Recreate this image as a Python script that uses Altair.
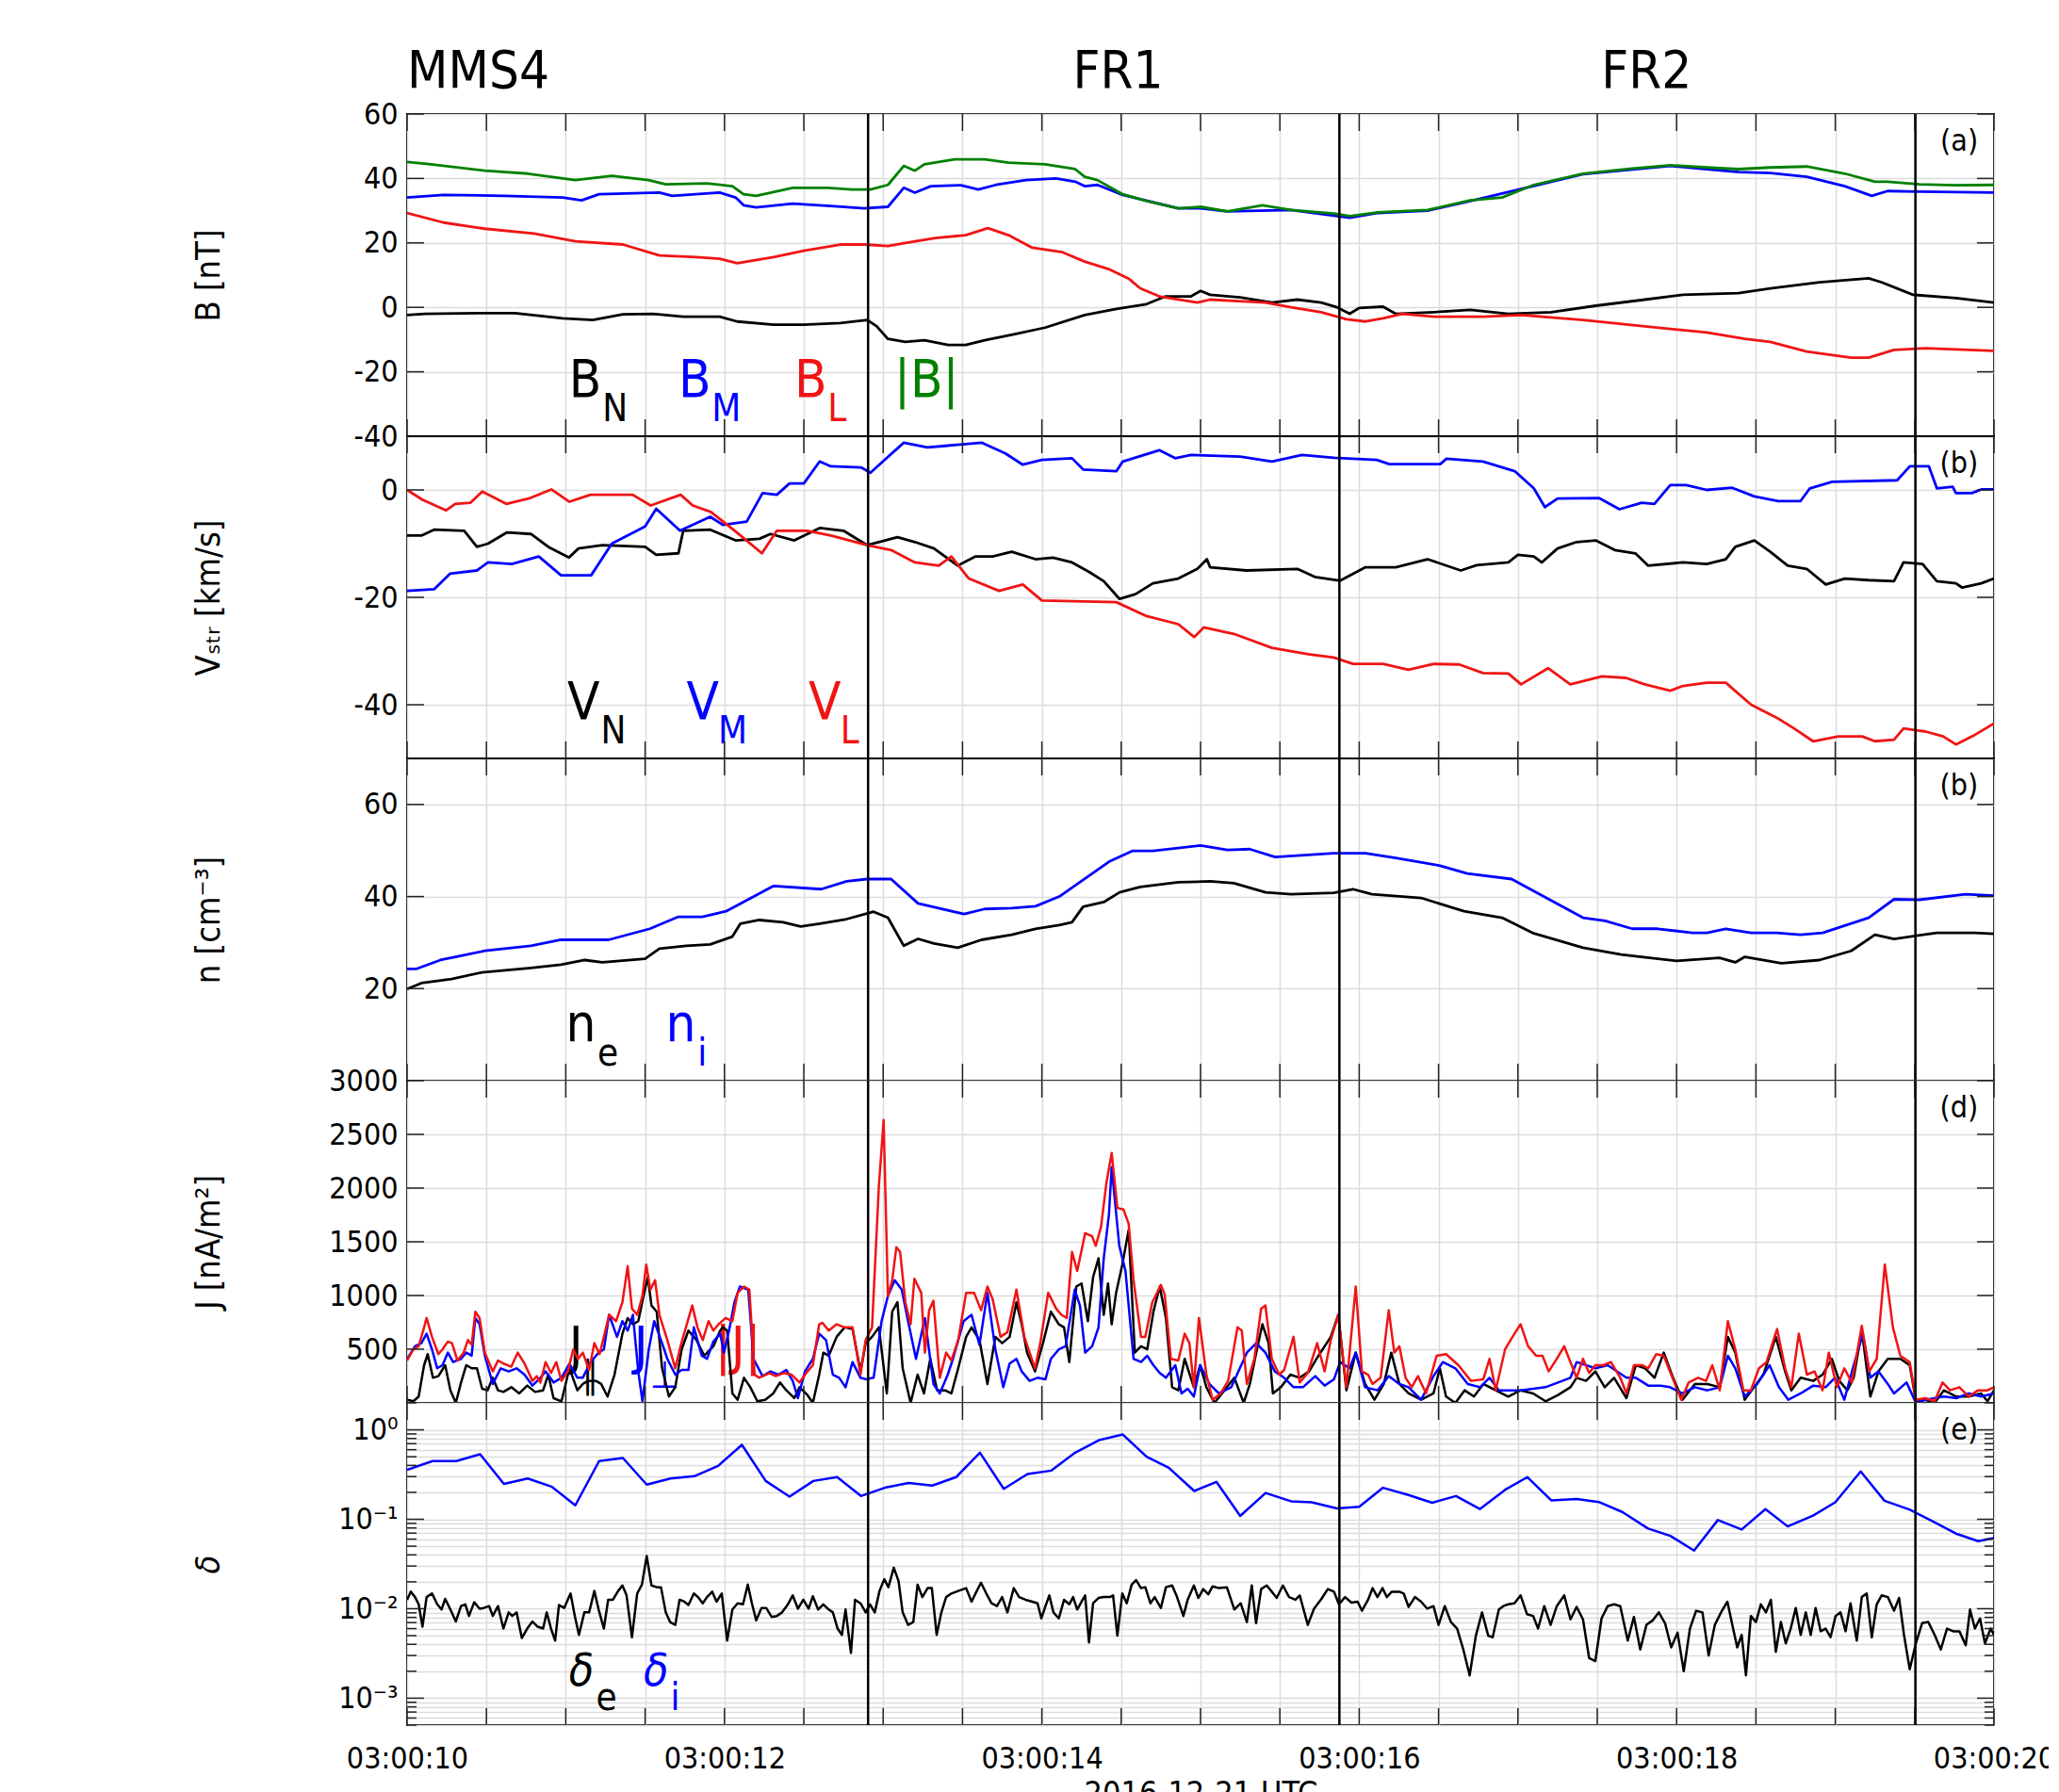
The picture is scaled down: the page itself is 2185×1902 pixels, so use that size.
import altair as alt
import pandas as pd

FONT = "DejaVu Sans Condensed, Liberation Sans Narrow, DejaVu Sans"
W, H = 1684, 342
TICK_LEN, MINOR_LEN = 18, 10
BLACK, BLUE, RED, GREEN = "#000000", "#0000ff", "#f01414", "#008000"
GRID_COLOR = "#dcdcdc"

# ---------------- axis / annotation values ----------------
T_DOMAIN = [10.0, 20.0]
HALF_TICKS = [10.0, 10.5, 11.0, 11.5, 12.0, 12.5, 13.0, 13.5, 14.0, 14.5, 15.0,
              15.5, 16.0, 16.5, 17.0, 17.5, 18.0, 18.5, 19.0, 19.5, 20.0]
EVENT_LINES = [12.905, 15.875, 19.505]
TOP_TITLES_LEFT = [("MMS4", 10.0)]
TOP_TITLES_CENTER = [("FR1", 14.48), ("FR2", 17.81)]
LETTER_T = 19.9
LETTERS = ["(a)", "(b)", "(b)", "(d)", "(e)"]

B_TICKS = [-40, -20, 0, 20, 40, 60]
V_TICKS = [-40, -20, 0]
N_TICKS = [20, 40, 60]
J_TICKS = [500, 1000, 1500, 2000, 2500, 3000]
D_MAJOR = [0.001, 0.01, 0.1, 1.0]
D_MINOR = [0.0005, 0.0006, 0.0007, 0.0008, 0.0009,
           0.002, 0.003, 0.004, 0.005, 0.006, 0.007, 0.008, 0.009,
           0.02, 0.03, 0.04, 0.05, 0.06, 0.07, 0.08, 0.09,
           0.2, 0.3, 0.4, 0.5, 0.6, 0.7, 0.8, 0.9, 2.0]

# ---------------- (a) magnetic field [nT] ----------------
B_N = [(10.0,-2.4),(10.11,-2.0),(10.45,-1.8),(10.68,-1.8),(10.98,-3.4),(11.17,-3.9),(11.36,-2.2),
       (11.55,-2.0),(11.74,-2.9),(11.97,-2.9),(12.08,-4.4),(12.31,-5.4),(12.50,-5.4),(12.73,-4.9),
       (12.90,-3.9),(12.96,-5.9),(13.03,-9.8),(13.14,-10.7),(13.26,-10.2),(13.41,-11.7),(13.52,-11.7),
       (13.64,-10.2),(13.83,-8.3),(14.02,-6.3),(14.27,-2.4),(14.47,-0.5),(14.66,1.0),(14.78,3.4),
       (14.94,3.4),(15.0,5.1),(15.06,3.9),(15.25,3.1),(15.45,1.5),(15.61,2.4),(15.76,1.5),(15.86,0.0),
       (15.94,-2.0),(16.0,-0.2),(16.15,0.2),(16.23,-2.0),(16.47,-1.5),(16.70,-0.8),(16.94,-2.0),
       (17.21,-1.5),(17.49,0.5),(17.80,2.4),(18.04,3.9),(18.39,4.4),(18.59,5.9),(18.90,7.8),
       (19.21,9.0),(19.29,7.8),(19.49,3.9),(19.76,2.9),(20.0,1.5)]
B_M = [(10.0,34.1),(10.23,34.9),(10.61,34.6),(10.98,34.1),(11.10,33.2),(11.21,35.1),(11.59,35.6),
       (11.67,34.6),(11.97,35.6),(12.07,34.1),(12.12,31.7),(12.20,31.0),(12.43,32.2),(12.69,31.4),
       (12.88,30.7),(13.03,31.2),(13.13,37.1),(13.20,35.6),(13.30,37.6),(13.49,37.9),(13.60,36.6),
       (13.71,38.0),(13.90,39.5),(14.09,40.0),(14.21,39.0),(14.27,37.6),(14.35,38.0),(14.51,34.9),
       (14.86,30.7),(15.0,30.7),(15.17,29.8),(15.57,30.2),(15.94,27.8),(16.12,29.3),(16.43,30.0),
       (16.70,33.0),(17.10,37.7),(17.41,41.3),(17.96,43.9),(18.19,42.9),(18.39,42.0),(18.59,41.7),
       (18.82,40.5),(19.06,37.6),(19.23,34.6),(19.33,36.1),(19.53,35.9),(20.0,35.6)]
B_L = [(10.0,29.3),(10.23,26.3),(10.49,24.4),(10.80,22.9),(11.06,20.5),(11.36,19.5),(11.59,16.1),
       (11.82,15.6),(11.97,15.1),(12.08,13.7),(12.31,15.6),(12.50,17.6),(12.73,19.5),(12.88,19.5),
       (13.03,19.0),(13.14,20.0),(13.33,21.5),(13.52,22.4),(13.66,24.6),(13.79,22.4),(13.94,18.5),
       (14.13,17.1),(14.27,14.2),(14.43,11.7),(14.55,8.8),(14.62,5.9),(14.74,3.4),(14.86,2.4),
       (14.98,1.5),(15.06,2.4),(15.21,2.0),(15.41,1.5),(15.57,0.0),(15.76,-1.5),(15.92,-3.7),
       (16.04,-4.4),(16.15,-3.4),(16.27,-2.0),(16.47,-2.9),(16.78,-2.9),(17.02,-2.4),(17.41,-3.9),
       (17.80,-5.9),(18.19,-7.8),(18.43,-9.8),(18.59,-10.7),(18.82,-13.7),(19.10,-15.6),(19.21,-15.6),
       (19.37,-13.2),(19.57,-12.7),(20.0,-13.5)]
B_ABS = [(10.0,45.1),(10.15,44.4),(10.49,42.4),(10.76,41.5),(11.06,39.5),(11.29,40.8),(11.52,39.5),
         (11.63,38.2),(11.89,38.5),(12.05,37.6),(12.12,35.1),(12.20,34.6),(12.43,37.1),(12.65,37.1),
         (12.80,36.6),(12.92,36.6),(13.03,38.0),(13.13,43.9),(13.20,42.4),(13.26,44.4),(13.45,45.9),
         (13.64,45.9),(13.79,44.9),(14.02,44.4),(14.21,42.9),(14.27,40.5),(14.35,39.5),(14.51,35.1),
         (14.66,33.0),(14.86,30.7),(15.0,31.2),(15.17,29.8),(15.39,31.7),(15.57,30.2),(15.84,29.1),
         (15.94,28.3),(16.12,29.5),(16.43,30.2),(16.70,33.2),(16.90,34.1),(17.10,38.0),(17.41,41.5),
         (17.72,43.1),(17.96,44.1),(18.19,43.4),(18.39,42.9),(18.59,43.4),(18.82,43.7),(19.06,41.5),
         (19.25,39.0),(19.33,39.0),(19.53,38.2),(19.76,37.9),(20.0,38.0)]

# ---------------- (b) structure velocity [km/s] ----------------
V_N = [(10.0,-8.5),(10.09,-8.5),(10.17,-7.4),(10.36,-7.6),(10.44,-10.6),(10.51,-10.0),(10.63,-7.9),
       (10.78,-8.2),(10.89,-10.6),(11.02,-12.6),(11.08,-10.9),(11.23,-10.3),(11.50,-10.6),(11.57,-12.1),
       (11.71,-11.8),(11.74,-7.6),(11.91,-7.4),(12.07,-9.4),(12.22,-9.1),(12.29,-8.2),(12.44,-9.4),
       (12.60,-7.1),(12.75,-7.6),(12.90,-10.3),(13.09,-8.8),(13.20,-9.7),(13.32,-10.9),(13.47,-14.1),
       (13.58,-12.4),(13.69,-12.4),(13.81,-11.5),(13.96,-12.9),(14.07,-12.6),(14.19,-13.5),(14.30,-15.3),
       (14.39,-17.0),(14.49,-20.3),(14.59,-19.4),(14.70,-17.4),(14.86,-16.5),(14.98,-14.7),(15.04,-12.9),
       (15.06,-14.4),(15.29,-15.0),(15.61,-14.7),(15.72,-16.2),(15.88,-16.9),(16.04,-14.4),(16.23,-14.4),
       (16.43,-12.9),(16.64,-15.0),(16.74,-14.0),(16.94,-13.5),(17.0,-12.1),(17.10,-12.4),(17.15,-13.5),
       (17.25,-10.9),(17.37,-9.7),(17.49,-9.4),(17.61,-11.2),(17.74,-11.8),(17.82,-14.1),(18.04,-13.5),
       (18.19,-13.8),(18.31,-12.9),(18.37,-10.6),(18.49,-9.4),(18.59,-11.5),(18.70,-14.1),(18.82,-14.7),
       (18.94,-17.6),(19.06,-16.5),(19.21,-16.8),(19.37,-17.0),(19.43,-13.5),(19.55,-13.8),(19.64,-17.0),
       (19.76,-17.4),(19.80,-18.2),(19.92,-17.4),(20.0,-16.5)]
V_M = [(10.0,-18.8),(10.17,-18.5),(10.27,-15.6),(10.44,-15.0),(10.51,-13.5),(10.66,-13.8),(10.83,-12.4),
       (10.97,-15.9),(11.16,-15.9),(11.29,-10.0),(11.50,-6.8),(11.57,-3.5),(11.72,-7.6),(11.91,-5.0),
       (11.99,-6.5),(12.14,-5.9),(12.24,-0.6),(12.33,-0.9),(12.41,1.2),(12.50,1.2),(12.60,5.3),
       (12.67,4.4),(12.86,4.2),(12.92,3.2),(13.01,5.6),(13.13,8.8),(13.28,7.9),(13.39,8.2),(13.62,8.8),
       (13.77,6.8),(13.88,4.7),(14.0,5.6),(14.19,5.9),(14.26,3.8),(14.47,3.5),(14.51,5.3),(14.74,7.4),
       (14.84,5.9),(14.94,6.5),(15.25,6.2),(15.45,5.3),(15.64,6.5),(15.84,6.0),(16.11,5.6),(16.19,4.8),
       (16.51,4.8),(16.55,5.8),(16.78,5.3),(16.98,3.5),(17.10,0.3),(17.17,-3.2),(17.25,-1.6),(17.51,-1.5),
       (17.64,-3.6),(17.78,-2.4),(17.86,-2.6),(17.96,0.9),(18.06,0.9),(18.19,0.0),(18.35,0.4),(18.49,-1.2),
       (18.64,-2.1),(18.78,-2.1),(18.84,0.3),(18.98,1.5),(19.39,1.8),(19.47,4.4),(19.59,4.4),(19.64,0.3),
       (19.74,0.6),(19.76,-0.6),(19.86,-0.6),(19.92,0.1),(20.0,0.1)]
V_L = [(10.0,0.0),(10.095,-1.8),(10.246,-3.8),(10.303,-2.6),(10.398,-2.4),(10.474,-0.3),(10.625,-2.6),
       (10.777,-1.5),(10.909,0.1),(11.023,-2.2),(11.156,-0.9),(11.421,-0.9),(11.535,-2.9),(11.724,-0.9),
       (11.80,-2.9),(11.914,-4.1),(12.065,-7.6),(12.236,-11.8),(12.33,-7.6),(12.52,-7.6),(12.67,-8.5),
       (12.90,-10.3),(13.05,-11.2),(13.20,-13.5),(13.35,-14.1),(13.43,-12.4),(13.54,-16.5),(13.73,-18.8),
       (13.88,-17.6),(14.0,-20.6),(14.47,-20.9),(14.66,-23.5),(14.86,-25.0),(14.96,-27.4),(15.02,-25.6),
       (15.21,-26.8),(15.45,-29.4),(15.68,-30.6),(15.84,-31.2),(15.96,-32.4),(16.15,-32.4),(16.31,-33.5),
       (16.47,-32.4),(16.63,-32.5),(16.78,-34.1),(16.94,-34.2),(17.02,-36.2),(17.19,-33.2),(17.33,-36.2),
       (17.53,-34.7),(17.68,-35.0),(17.80,-36.2),(17.96,-37.4),(18.04,-36.5),(18.19,-35.9),(18.31,-35.9),
       (18.47,-40.0),(18.63,-42.4),(18.74,-44.4),(18.86,-46.8),(19.02,-45.9),(19.17,-45.9),(19.25,-46.8),
       (19.37,-46.5),(19.43,-44.4),(19.57,-45.0),(19.68,-45.9),(19.76,-47.4),(19.88,-45.6),(20.0,-43.5)]

# ---------------- (c) density [cm^-3] ----------------
N_E = [(10.0,19.9),(10.09,21.2),(10.28,22.1),(10.47,23.5),(10.78,24.5),(10.97,25.2),(11.12,26.2),
       (11.23,25.7),(11.50,26.5),(11.59,28.7),(11.76,29.3),(11.91,29.6),(12.05,31.3),(12.10,34.1),
       (12.22,34.9),(12.37,34.4),(12.48,33.5),(12.60,34.1),(12.77,35.1),(12.94,36.7),(13.03,35.4),
       (13.13,29.3),(13.22,30.8),(13.32,29.8),(13.47,28.9),(13.62,30.6),(13.81,31.7),(13.96,33.0),
       (14.11,33.8),(14.19,34.4),(14.26,37.8),(14.39,38.8),(14.49,40.9),(14.62,42.1),(14.86,43.1),
       (15.06,43.3),(15.21,42.9),(15.41,40.9),(15.57,40.5),(15.84,40.8),(15.96,41.6),(16.08,40.5),
       (16.39,39.7),(16.66,36.8),(16.90,35.4),(17.10,32.0),(17.41,28.9),(17.65,27.4),(18.0,26.0),
       (18.27,26.7),(18.37,25.7),(18.43,26.9),(18.66,25.5),(18.90,26.2),(19.10,28.2),(19.25,31.7),
       (19.37,30.8),(19.64,32.1),(19.88,32.1),(20.0,31.9)]
N_I = [(10.0,24.3),(10.06,24.3),(10.21,26.2),(10.49,28.2),(10.78,29.3),(10.97,30.6),(11.27,30.6),
       (11.53,33.0),(11.71,35.6),(11.86,35.6),(12.01,36.8),(12.31,42.3),(12.61,41.6),(12.77,43.3),
       (12.90,43.8),(13.05,43.8),(13.22,38.5),(13.51,36.2),(13.64,37.3),(13.81,37.5),(13.96,37.9),
       (14.11,40.0),(14.43,47.7),(14.57,49.9),(14.70,49.9),(15.0,51.1),(15.17,50.1),(15.31,50.3),
       (15.47,48.6),(15.84,49.4),(16.04,49.4),(16.23,48.4),(16.51,46.7),(16.68,45.0),(16.96,43.8),
       (17.41,35.4),(17.55,34.7),(17.72,33.0),(17.88,33.0),(18.10,32.1),(18.19,32.1),(18.31,33.0),
       (18.47,32.1),(18.63,32.1),(18.78,31.7),(18.92,32.1),(19.21,35.4),(19.37,39.4),(19.53,39.3),
       (19.82,40.5),(20.0,40.2)]

# ---------------- (d) current density [nA/m^2] ----------------
J_PAR = [(10.0,29),(10.04,15),(10.073,59),(10.107,351),(10.13,454),(10.163,234),(10.197,249),(10.24,351),
         (10.273,117),(10.307,0),(10.34,190),(10.373,351),(10.407,322),(10.44,322),(10.473,132),(10.507,117),
         (10.54,234),(10.573,117),(10.607,102),(10.657,146),(10.707,88),(10.757,161),(10.807,102),(10.857,117),
         (10.89,263),(10.923,44),(10.973,15),(11.023,322),(11.073,117),(11.107,176),(11.14,205),(11.19,205),
         (11.223,176),(11.263,59),(11.307,263),(11.357,644),(11.39,790),(11.423,732),(11.457,761),(11.49,995),
         (11.517,1171),(11.54,907),(11.573,849),(11.607,322),(11.65,59),(11.69,146),(11.73,498),(11.773,673),
         (11.823,585),(11.873,439),(11.93,527),(11.973,673),(11.99,703),(12.017,673),(12.05,88),(12.083,29),
         (12.123,234),(12.163,146),(12.207,15),(12.257,29),(12.307,88),(12.35,190),(12.39,117),(12.44,44),
         (12.473,146),(12.523,73),(12.557,0),(12.597,263),(12.623,468),(12.657,439),(12.707,615),(12.757,703),
         (12.807,688),(12.857,293),(12.89,556),(12.93,615),(12.973,703),(13.023,88),(13.057,849),(13.09,937),
         (13.123,322),(13.173,0),(13.217,263),(13.257,88),(13.297,410),(13.34,117),(13.39,117),(13.43,88),
         (13.473,322),(13.523,615),(13.557,703),(13.607,585),(13.657,176),(13.707,615),(13.75,556),(13.797,615),
         (13.84,937),(13.873,732),(13.907,468),(13.957,293),(14.007,556),(14.057,849),(14.107,732),(14.14,703),
         (14.173,380),(14.217,1083),(14.25,1112),(14.29,761),(14.323,1171),(14.357,1346),(14.39,820),(14.417,1112),
         (14.44,732),(14.468,1025),(14.507,1288),(14.547,1610),(14.586,468),(14.625,527),(14.664,498),(14.703,849),
         (14.743,1083),(14.782,790),(14.821,146),(14.86,117),(14.9,410),(14.958,146),(14.998,351),(15.037,146),
         (15.088,0),(15.135,88),(15.213,234),(15.272,0),(15.311,176),(15.351,468),(15.39,732),(15.429,556),
         (15.456,88),(15.507,146),(15.566,263),(15.625,234),(15.684,293),(15.743,439),(15.821,615),(15.868,820),
         (15.919,117),(15.978,468),(16.037,176),(16.096,29),(16.155,176),(16.202,468),(16.253,176),(16.311,88),
         (16.39,29),(16.468,88),(16.508,322),(16.547,59),(16.606,0),(16.664,117),(16.723,59),(16.782,176),
         (16.86,117),(16.939,59),(17.017,117),(17.096,88),(17.174,15),(17.253,73),(17.331,146),(17.37,234),
         (17.429,205),(17.488,293),(17.547,146),(17.606,234),(17.684,44),(17.743,351),(17.802,322),(17.861,234),
         (17.919,468),(17.978,234),(18.037,29),(18.115,176),(18.194,176),(18.272,146),(18.323,615),(18.37,468),
         (18.429,29),(18.488,146),(18.547,263),(18.625,615),(18.684,293),(18.723,117),(18.782,234),(18.861,205),
         (18.92,263),(18.978,410),(19.025,205),(19.076,117),(19.116,234),(19.167,673),(19.221,59),(19.272,293),
         (19.331,410),(19.41,410),(19.469,351),(19.508,15),(19.567,29),(19.626,0),(19.684,117),(19.763,59),
         (19.841,59),(19.919,88),(19.959,15),(20.0,117)]
J_PERP = [(10.0,410),(10.05,527),(10.09,556),(10.123,644),(10.157,498),(10.19,322),(10.223,351),(10.257,468),
          (10.29,380),(10.34,410),(10.373,468),(10.407,439),(10.43,790),(10.457,732),(10.49,439),(10.54,176),
          (10.59,322),(10.64,293),(10.69,322),(10.74,263),(10.79,161),(10.84,234),(10.873,293),(10.923,190),
          (10.973,234),(11.023,366),(11.073,234),(11.107,234),(11.157,380),(11.207,468),(11.24,498),(11.273,820),
          (11.323,615),(11.357,761),(11.39,673),(11.423,820),(11.457,293),(11.483,15),(11.523,498),(11.557,761),
          (11.607,556),(11.64,410),(11.69,263),(11.73,307),(11.773,307),(11.807,703),(11.857,439),(11.89,410),
          (11.93,571),(11.973,644),(11.997,468),(12.033,703),(12.063,937),(12.097,1083),(12.15,1054),(12.183,410),
          (12.24,249),(12.29,293),(12.34,263),(12.39,307),(12.43,205),(12.463,44),(12.507,293),(12.557,410),
          (12.597,644),(12.64,585),(12.683,263),(12.723,234),(12.763,146),(12.807,380),(12.857,234),(12.89,220),
          (12.94,234),(12.99,761),(13.03,995),(13.073,1142),(13.117,1054),(13.157,761),(13.207,410),(13.263,790),
          (13.317,176),(13.357,88),(13.407,263),(13.44,410),(13.507,761),(13.557,820),(13.607,541),(13.657,1025),
          (13.707,498),(13.757,146),(13.797,366),(13.84,410),(13.873,293),(13.923,205),(13.973,234),(14.023,220),
          (14.057,410),(14.107,498),(14.15,527),(14.207,1054),(14.24,907),(14.273,468),(14.317,527),(14.357,703),
          (14.39,1346),(14.423,1756),(14.44,2195),(14.488,1463),(14.527,1229),(14.578,410),(14.625,380),
          (14.664,439),(14.703,351),(14.743,278),(14.782,234),(14.841,351),(14.88,88),(14.919,132),(14.958,59),
          (14.998,351),(15.056,176),(15.115,88),(15.194,146),(15.292,468),(15.351,556),(15.409,468),(15.468,293),
          (15.527,234),(15.586,146),(15.645,146),(15.723,249),(15.782,161),(15.841,220),(15.88,380),(15.939,322),
          (15.978,468),(16.037,146),(16.115,117),(16.186,249),(16.253,176),(16.311,146),(16.39,29),(16.468,249),
          (16.527,380),(16.606,322),(16.684,176),(16.762,146),(16.821,234),(16.88,117),(17.017,117),(17.174,146),
          (17.331,234),(17.37,380),(17.488,322),(17.566,351),(17.684,234),(17.743,234),(17.821,161),(17.899,161),
          (17.958,146),(18.037,88),(18.115,146),(18.194,117),(18.272,146),(18.323,439),(18.37,322),(18.429,59),
          (18.508,176),(18.586,351),(18.645,146),(18.704,29),(18.782,88),(18.861,161),(18.939,146),(18.998,234),
          (19.057,29),(19.116,351),(19.174,644),(19.221,234),(19.272,293),(19.331,176),(19.37,88),(19.449,190),
          (19.508,0),(19.567,29),(19.626,44),(19.684,59),(19.763,44),(19.841,88),(19.919,59),(20.0,88)]
J_ABS = [(10.0,395),(10.04,498),(10.073,527),(10.107,703),(10.123,790),(10.157,615),(10.197,454),(10.223,498),
         (10.257,571),(10.283,556),(10.317,395),(10.357,468),(10.383,585),(10.407,541),(10.43,849),(10.457,790),
         (10.49,468),(10.54,293),(10.573,395),(10.607,366),(10.657,337),(10.697,468),(10.74,366),(10.79,205),
         (10.817,249),(10.84,190),(10.873,380),(10.907,278),(10.94,380),(10.973,205),(11.013,293),(11.047,498),
         (11.077,410),(11.107,468),(11.147,307),(11.18,556),(11.213,454),(11.24,615),(11.273,820),(11.317,761),
         (11.357,937),(11.39,1273),(11.417,878),(11.45,820),(11.483,995),(11.507,1288),(11.533,1054),(11.563,1142),
         (11.59,820),(11.64,585),(11.69,322),(11.723,527),(11.757,703),(11.797,907),(11.83,703),(11.863,585),
         (11.9,761),(11.93,673),(11.963,732),(12.007,790),(12.05,761),(12.083,1025),(12.123,1083),(12.157,1054),
         (12.19,263),(12.217,234),(12.24,249),(12.283,278),(12.323,249),(12.373,278),(12.423,263),(12.473,190),
         (12.523,293),(12.557,351),(12.597,732),(12.617,746),(12.657,673),(12.707,732),(12.757,703),(12.807,703),
         (12.857,263),(12.89,585),(12.93,703),(12.973,2020),(13.003,2634),(13.03,995),(13.057,1142),(13.083,1449),
         (13.107,1405),(13.14,937),(13.173,732),(13.197,1156),(13.24,1025),(13.263,468),(13.29,863),(13.317,951),
         (13.357,234),(13.397,468),(13.43,395),(13.473,585),(13.523,1025),(13.573,1025),(13.617,863),(13.657,1083),
         (13.69,966),(13.74,615),(13.783,659),(13.84,1054),(13.89,615),(13.923,468),(13.957,322),(13.99,556),
         (14.04,1025),(14.09,878),(14.123,820),(14.157,790),(14.19,1405),(14.223,1229),(14.273,1580),(14.317,1551),
         (14.34,1463),(14.373,1639),(14.407,2049),(14.44,2327),(14.476,1815),(14.515,1800),(14.547,1668),
         (14.578,1141),(14.625,615),(14.652,615),(14.696,937),(14.75,1098),(14.774,1010),(14.813,410),(14.86,395),
         (14.9,644),(14.93,556),(14.958,146),(14.99,790),(15.037,263),(15.076,29),(15.127,88),(15.174,205),
         (15.233,703),(15.26,673),(15.292,176),(15.339,410),(15.382,878),(15.409,907),(15.449,410),(15.496,263),
         (15.527,307),(15.586,615),(15.625,190),(15.676,278),(15.735,556),(15.782,293),(15.821,585),(15.868,820),
         (15.919,146),(15.978,1083),(16.017,293),(16.056,263),(16.084,176),(16.135,234),(16.186,863),(16.221,468),
         (16.253,527),(16.292,234),(16.331,146),(16.37,249),(16.421,88),(16.488,439),(16.547,454),(16.625,351),
         (16.704,205),(16.782,220),(16.821,410),(16.86,117),(16.919,498),(16.978,644),(17.017,732),(17.064,527),
         (17.115,439),(17.155,439),(17.194,293),(17.245,410),(17.292,527),(17.331,380),(17.37,234),(17.41,410),
         (17.449,278),(17.488,351),(17.539,351),(17.586,380),(17.645,234),(17.684,88),(17.731,351),(17.782,351),
         (17.821,322),(17.872,454),(17.919,439),(17.966,263),(18.029,29),(18.076,190),(18.135,234),(18.186,205),
         (18.225,351),(18.272,117),(18.323,761),(18.37,498),(18.421,117),(18.468,117),(18.519,322),(18.567,380),
         (18.633,688),(18.684,322),(18.723,146),(18.77,644),(18.821,263),(18.869,293),(18.92,117),(18.959,468),
         (19.01,146),(19.057,322),(19.104,190),(19.167,717),(19.214,293),(19.261,410),(19.312,1288),(19.363,703),
         (19.41,439),(19.469,380),(19.508,29),(19.567,44),(19.626,15),(19.676,190),(19.723,117),(19.782,146),
         (19.841,59),(19.9,117),(19.959,117),(20.0,146)]

# ---------------- (e) delta ----------------
DELTA_I = [(10.0,0.356),(10.16,0.447),(10.31,0.447),(10.46,0.533),(10.61,0.248),(10.76,0.286),(10.91,0.232),
           (11.06,0.143),(11.21,0.447),(11.36,0.484),(11.51,0.244),(11.66,0.286),(11.81,0.303),(11.96,0.395),
           (12.11,0.679),(12.26,0.268),(12.41,0.179),(12.56,0.268),(12.71,0.296),(12.86,0.182),(13.01,0.225),
           (13.16,0.254),(13.31,0.238),(13.46,0.296),(13.61,0.555),(13.76,0.219),(13.91,0.321),(14.06,0.350),
           (14.21,0.555),(14.36,0.766),(14.51,0.886),(14.66,0.5),(14.80,0.377),(14.96,0.207),(15.10,0.262),
           (15.25,0.109),(15.41,0.197),(15.57,0.159),(15.70,0.155),(15.86,0.132),(16.0,0.138),(16.15,0.225),
           (16.31,0.187),(16.46,0.153),(16.61,0.182),(16.76,0.130),(16.92,0.214),(17.06,0.296),(17.21,0.163),
           (17.37,0.169),(17.51,0.156),(17.66,0.120),(17.82,0.0787),(17.96,0.0653),(18.11,0.0447),(18.26,0.098),
           (18.41,0.0768),(18.56,0.130),(18.70,0.0832),(18.86,0.110),(19.0,0.155),(19.16,0.342),(19.31,0.161),
           (19.47,0.128),(19.61,0.0955),(19.76,0.0692),(19.90,0.057),(20.0,0.0618)]
DELTA_E = [(10.0,0.0126),(10.023,0.0155),(10.05,0.0135),(10.073,0.0112),(10.097,0.0063),(10.123,0.0135),
           (10.157,0.0148),(10.19,0.0112),(10.217,0.0098),(10.24,0.0129),(10.273,0.0098),(10.307,0.0072),
           (10.34,0.0107),(10.367,0.0112),(10.39,0.0083),(10.423,0.0118),(10.457,0.0100),(10.483,0.0102),
           (10.517,0.0107),(10.54,0.0083),(10.573,0.0107),(10.607,0.0060),(10.64,0.0091),(10.663,0.0083),
           (10.69,0.0091),(10.723,0.0047),(10.757,0.0060),(10.79,0.0072),(10.823,0.0063),(10.857,0.0060),
           (10.88,0.0091),(10.907,0.0060),(10.933,0.0044),(10.957,0.0110),(10.99,0.0102),(11.03,0.0148),
           (11.057,0.0083),(11.083,0.0051),(11.117,0.0091),(11.147,0.0091),(11.18,0.0158),(11.207,0.0098),
           (11.24,0.0060),(11.267,0.0126),(11.297,0.0126),(11.33,0.0158),(11.357,0.0182),(11.383,0.0141),
           (11.417,0.0048),(11.45,0.0148),(11.48,0.0186),(11.51,0.0389),(11.54,0.0182),(11.573,0.0174),
           (11.6,0.0174),(11.63,0.0091),(11.657,0.0071),(11.69,0.0066),(11.717,0.0126),(11.747,0.0120),
           (11.773,0.0110),(11.807,0.0148),(11.833,0.0135),(11.863,0.0115),(11.89,0.0135),(11.923,0.0155),
           (11.95,0.0120),(11.983,0.0148),(12.017,0.0044),(12.05,0.0098),(12.083,0.0115),(12.117,0.0112),
           (12.147,0.0186),(12.173,0.0115),(12.2,0.0074),(12.233,0.0102),(12.263,0.0102),(12.297,0.0081),
           (12.33,0.0083),(12.363,0.0091),(12.397,0.0110),(12.43,0.0141),(12.463,0.0100),(12.497,0.0126),
           (12.53,0.0100),(12.557,0.0138),(12.59,0.0098),(12.623,0.0112),(12.657,0.0098),(12.683,0.0091),
           (12.713,0.0060),(12.74,0.0051),(12.763,0.0098),(12.797,0.0032),(12.823,0.0126),(12.857,0.0115),
           (12.89,0.0091),(12.917,0.0112),(12.947,0.0091),(12.977,0.0158),(13.007,0.0214),(13.033,0.0174),
           (13.067,0.0288),(13.097,0.0204),(13.123,0.0091),(13.157,0.0066),(13.19,0.0071),(13.217,0.0186),
           (13.247,0.0135),(13.28,0.0170),(13.307,0.0170),(13.337,0.0051),(13.367,0.0091),(13.397,0.0135),
           (13.43,0.0148),(13.473,0.0158),(13.523,0.0170),(13.557,0.0120),(13.59,0.0158),(13.617,0.0195),
           (13.65,0.0148),(13.683,0.0115),(13.717,0.0107),(13.75,0.0135),(13.783,0.0091),(13.823,0.0170),
           (13.857,0.0135),(13.897,0.0126),(13.94,0.0120),(13.973,0.0115),(13.997,0.0078),(14.023,0.0107),
           (14.047,0.0141),(14.073,0.0091),(14.107,0.0078),(14.14,0.0126),(14.173,0.0112),(14.197,0.0135),
           (14.223,0.0098),(14.257,0.0126),(14.273,0.0141),(14.297,0.0042),(14.323,0.0115),(14.357,0.0132),
           (14.39,0.0135),(14.429,0.0135),(14.449,0.0141),(14.476,0.0050),(14.507,0.0148),(14.535,0.0115),
           (14.566,0.0186),(14.594,0.0209),(14.625,0.0170),(14.652,0.0174),(14.684,0.0115),(14.711,0.0135),
           (14.75,0.0102),(14.782,0.0174),(14.821,0.0182),(14.852,0.0135),(14.892,0.0083),(14.919,0.0126),
           (14.958,0.0182),(14.986,0.0132),(15.017,0.0166),(15.049,0.0145),(15.076,0.0178),(15.115,0.0170),
           (15.166,0.0174),(15.213,0.0098),(15.253,0.0115),(15.292,0.0071),(15.323,0.0182),(15.35,0.0069),
           (15.382,0.0166),(15.417,0.0182),(15.449,0.0155),(15.48,0.0132),(15.519,0.0182),(15.558,0.0135),
           (15.598,0.0126),(15.625,0.0141),(15.676,0.0066),(15.715,0.0100),(15.762,0.0129),(15.802,0.0166),
           (15.841,0.0155),(15.872,0.0112),(15.911,0.0135),(15.951,0.0117),(15.99,0.0120),(16.017,0.0095),
           (16.056,0.0126),(16.084,0.0170),(16.115,0.0135),(16.147,0.0170),(16.174,0.0135),(16.205,0.0155),
           (16.253,0.0155),(16.28,0.0148),(16.311,0.0105),(16.351,0.0135),(16.39,0.0120),(16.429,0.0100),
           (16.468,0.0107),(16.5,0.0066),(16.539,0.0107),(16.578,0.0071),(16.617,0.0060),(16.656,0.0035),
           (16.696,0.0018),(16.735,0.0050),(16.774,0.0091),(16.813,0.0050),(16.841,0.0048),(16.88,0.0098),
           (16.908,0.0107),(16.939,0.0112),(16.978,0.0115),(17.017,0.0141),(17.057,0.0087),(17.096,0.0083),
           (17.127,0.0060),(17.166,0.0107),(17.206,0.0066),(17.245,0.0107),(17.292,0.0141),(17.331,0.0076),
           (17.37,0.0105),(17.41,0.0076),(17.449,0.0028),(17.488,0.0026),(17.527,0.0078),(17.566,0.0107),
           (17.606,0.0112),(17.645,0.0107),(17.692,0.0044),(17.731,0.0081),(17.771,0.0035),(17.81,0.0066),
           (17.849,0.0074),(17.888,0.0091),(17.927,0.0069),(17.966,0.0037),(18.006,0.0054),(18.045,0.0020),
           (18.084,0.0060),(18.123,0.0095),(18.163,0.0091),(18.202,0.0030),(18.241,0.0066),(18.28,0.0091),
           (18.32,0.0120),(18.351,0.0066),(18.382,0.0037),(18.41,0.0051),(18.437,0.0018),(18.468,0.0083),
           (18.5,0.0071),(18.531,0.0112),(18.563,0.0091),(18.594,0.0126),(18.625,0.0033),(18.657,0.0071),
           (18.688,0.0041),(18.719,0.0060),(18.751,0.0102),(18.782,0.0051),(18.814,0.0091),(18.845,0.0051),
           (18.876,0.0102),(18.908,0.0056),(18.939,0.0060),(18.97,0.0048),(19.002,0.0083),(19.033,0.0091),
           (19.065,0.0056),(19.096,0.0115),(19.135,0.0044),(19.167,0.0135),(19.198,0.0148),(19.23,0.0048),
           (19.261,0.0112),(19.292,0.0141),(19.331,0.0135),(19.37,0.0095),(19.402,0.0132),(19.433,0.0051),
           (19.469,0.0021),(19.508,0.0041),(19.547,0.0069),(19.586,0.0071),(19.626,0.0051),(19.665,0.0035),
           (19.704,0.0060),(19.743,0.0056),(19.782,0.0056),(19.822,0.0039),(19.849,0.0098),(19.88,0.0060),
           (19.912,0.0078),(19.943,0.0041),(19.979,0.0060),(20.0,0.0051)]

# ---------------- in-panel legend labels ----------------
LEG_A_MAIN = [("B", 11.02, BLACK), ("B", 11.71, BLUE), ("B", 12.44, RED), ("|B|", 13.07, GREEN)]
LEG_A_SUB = [("N", 11.23, BLACK), ("M", 11.92, BLUE), ("L", 12.65, RED)]
LEG_B_MAIN = [("V", 11.01, BLACK), ("V", 11.76, BLUE), ("V", 12.53, RED)]
LEG_B_SUB = [("N", 11.22, BLACK), ("M", 11.96, BLUE), ("L", 12.73, RED)]
LEG_C_MAIN = [("n", 11.0, BLACK), ("n", 11.63, BLUE)]
LEG_C_SUB = [("e", 11.2, BLACK), ("i", 11.83, BLUE)]
LEG_D_MAIN = [("J", 11.02, BLACK), ("J", 11.43, BLUE), ("|J|", 11.94, RED)]
LEG_D_SUB = [("\u2225", 11.1, BLACK), ("\u22a5", 11.53, BLUE)]
LEG_E_MAIN = [("\u03b4", 11.02, BLACK), ("\u03b4", 11.49, BLUE)]
LEG_E_SUB = [("e", 11.19, BLACK), ("i", 11.66, BLUE)]

X_SCALE = alt.Scale(domain=T_DOMAIN, nice=False, zero=False)


def x_axis(bottom):
    if bottom:
        return alt.Axis(values=HALF_TICKS, grid=True, gridColor=GRID_COLOR, gridWidth=1.5,
                        labels=True, labelExpr="datum.value % 2 == 0 ? '03:00:' + datum.value : ''",
                        labelFontSize=32, labelPadding=20, labelFlush=False, labelOverlap=False,
                        labelColor="black", ticks=False, tickSize=0, domain=False,
                        title="2016-12-21 UTC", titleFontSize=34, titlePadding=5,
                        titleFontWeight="normal", titleColor="black")
    return alt.Axis(values=HALF_TICKS, grid=True, gridColor=GRID_COLOR, gridWidth=1.5,
                    labels=False, ticks=False, tickSize=0, domain=False, title=None)


def y_axis(values, title, label_expr, italic=False):
    return alt.Axis(values=values, grid=True, gridColor=GRID_COLOR, gridWidth=1.5,
                    ticks=False, tickSize=0, domain=False, labelExpr=label_expr,
                    labelFontSize=32, labelPadding=10, labelOverlap=False, labelColor="black",
                    title=title, titleFontSize=36, titleFontWeight="normal",
                    titleFontStyle="italic" if italic else "normal", titleColor="black",
                    titleX=-211, titleY=H / 2, titleAngle=270, titleBaseline="middle",
                    titleAlign="center")


def pts(points):
    return pd.DataFrame(points, columns=["t", "v"])


def panel(series, y_scale, axis_y, major_ticks, minor_ticks, leg_main, leg_sub, letter,
          bottom=False, italic_legend=False, top_titles=False, line_width=2.8):
    xenc = alt.X("t:Q", scale=X_SCALE, axis=x_axis(bottom))
    yenc = alt.Y("v:Q", scale=y_scale, axis=axis_y)
    layers = []
    # legend text (drawn beneath the data, as in the original)
    main_df = pd.DataFrame(leg_main, columns=["label", "t", "c"])
    sub_df = pd.DataFrame(leg_sub, columns=["label", "t", "c"])
    layers.append(alt.Chart(main_df).mark_text(
        align="left", baseline="alphabetic", fontSize=48 if italic_legend else 56, font=FONT,
        fontStyle="italic" if italic_legend else "normal").encode(
        x=xenc, y=alt.value(300), text="label:N", color=alt.Color("c:N", scale=None)))
    layers.append(alt.Chart(sub_df).mark_text(
        align="left", baseline="alphabetic", fontSize=40, font=FONT).encode(
        x=xenc, y=alt.value(326), text="label:N", color=alt.Color("c:N", scale=None)))
    # data lines
    for pts_list, color in series:
        layers.append(alt.Chart(pts(pts_list)).mark_line(
            color=color, strokeWidth=line_width, clip=True, strokeJoin="round").encode(x=xenc, y=yenc))
    # event lines
    layers.append(alt.Chart(pd.DataFrame({"t": EVENT_LINES})).mark_rule(
        color="black", strokeWidth=2.5).encode(x=xenc))
    # inward ticks (MATLAB style)
    xt = pd.DataFrame({"t": HALF_TICKS})
    layers.append(alt.Chart(xt).mark_rule(color="#222222", strokeWidth=1.5).encode(
        x=xenc, y=alt.value(0), y2=alt.value(TICK_LEN)))
    layers.append(alt.Chart(xt).mark_rule(color="#222222", strokeWidth=1.5).encode(
        x=xenc, y=alt.value(H - TICK_LEN), y2=alt.value(H)))
    for vals, ln in ((major_ticks, TICK_LEN), (minor_ticks, MINOR_LEN)):
        if not vals:
            continue
        yt = pd.DataFrame({"v": vals})
        layers.append(alt.Chart(yt).mark_rule(color="#222222", strokeWidth=1.5).encode(
            y=yenc, x=alt.value(0), x2=alt.value(ln)))
        layers.append(alt.Chart(yt).mark_rule(color="#222222", strokeWidth=1.5).encode(
            y=yenc, x=alt.value(W - ln), x2=alt.value(W)))
    # panel letter
    layers.append(alt.Chart(pd.DataFrame({"t": [LETTER_T], "label": [letter]})).mark_text(
        align="right", baseline="alphabetic", fontSize=32, font=FONT, color="black").encode(
        x=xenc, y=alt.value(39), text="label:N"))
    if top_titles:
        left_df = pd.DataFrame(TOP_TITLES_LEFT, columns=["label", "t"])
        center_df = pd.DataFrame(TOP_TITLES_CENTER, columns=["label", "t"])
        layers.append(alt.Chart(left_df).mark_text(
            align="left", baseline="alphabetic", fontSize=56, font=FONT, color="black").encode(
            x=xenc, y=alt.value(-28), text="label:N"))
        layers.append(alt.Chart(center_df).mark_text(
            align="center", baseline="alphabetic", fontSize=56, font=FONT, color="black").encode(
            x=xenc, y=alt.value(-28), text="label:N"))
    return alt.layer(*layers).properties(width=W, height=H)


LIN = "'' + datum.value"
LOG_LABELS = ("datum.value == 1 ? '10\u2070' : datum.value == 0.1 ? '10\u207b\u00b9' : "
              "datum.value == 0.01 ? '10\u207b\u00b2' : datum.value == 0.001 ? '10\u207b\u00b3' : ''")

pa = panel([(B_N, BLACK), (B_M, BLUE), (B_L, RED), (B_ABS, GREEN)],
           alt.Scale(domain=[-40, 60], nice=False, zero=False),
           y_axis(B_TICKS, "B [nT]", LIN), B_TICKS, [], LEG_A_MAIN, LEG_A_SUB, LETTERS[0],
           top_titles=True)
pb = panel([(V_N, BLACK), (V_M, BLUE), (V_L, RED)],
           alt.Scale(domain=[-50, 10], nice=False, zero=False),
           y_axis(V_TICKS, "V\u209b\u209c\u1d63 [km/s]", LIN), V_TICKS, [], LEG_B_MAIN, LEG_B_SUB,
           LETTERS[1])
pc = panel([(N_E, BLACK), (N_I, BLUE)],
           alt.Scale(domain=[0, 70], nice=False, zero=False),
           y_axis(N_TICKS, "n [cm\u207b\u00b3]", LIN), N_TICKS, [], LEG_C_MAIN, LEG_C_SUB, LETTERS[2])
pd_ = panel([(J_PAR, BLACK), (J_PERP, BLUE), (J_ABS, RED)],
            alt.Scale(domain=[0, 3000], nice=False, zero=False),
            y_axis(J_TICKS, "J [nA/m\u00b2]", LIN), J_TICKS, [], LEG_D_MAIN, LEG_D_SUB, LETTERS[3],
            line_width=2.5)
pe = panel([(DELTA_E, BLACK), (DELTA_I, BLUE)],
           alt.Scale(type="log", domain=[0.0005, 2], nice=False),
           y_axis(D_MAJOR + D_MINOR, "\u03b4", LOG_LABELS, italic=True), D_MAJOR, D_MINOR,
           LEG_E_MAIN, LEG_E_SUB, LETTERS[4], bottom=True, italic_legend=True, line_width=2.5)

# a slightly negative right padding lets the last time label run off the page edge,
# as it does in the original figure, instead of widening the page
chart = alt.vconcat(pa, pb, pc, pd_, pe, spacing=0, bounds="flush").properties(
    padding={"left": 194, "top": 39, "right": -8, "bottom": 0}
).configure(font=FONT, background="white").configure_view(
    stroke="black", strokeWidth=2
).configure_axis(labelFont=FONT, titleFont=FONT)

chart.save("out.html", embed_options={"renderer": "svg", "actions": False})
